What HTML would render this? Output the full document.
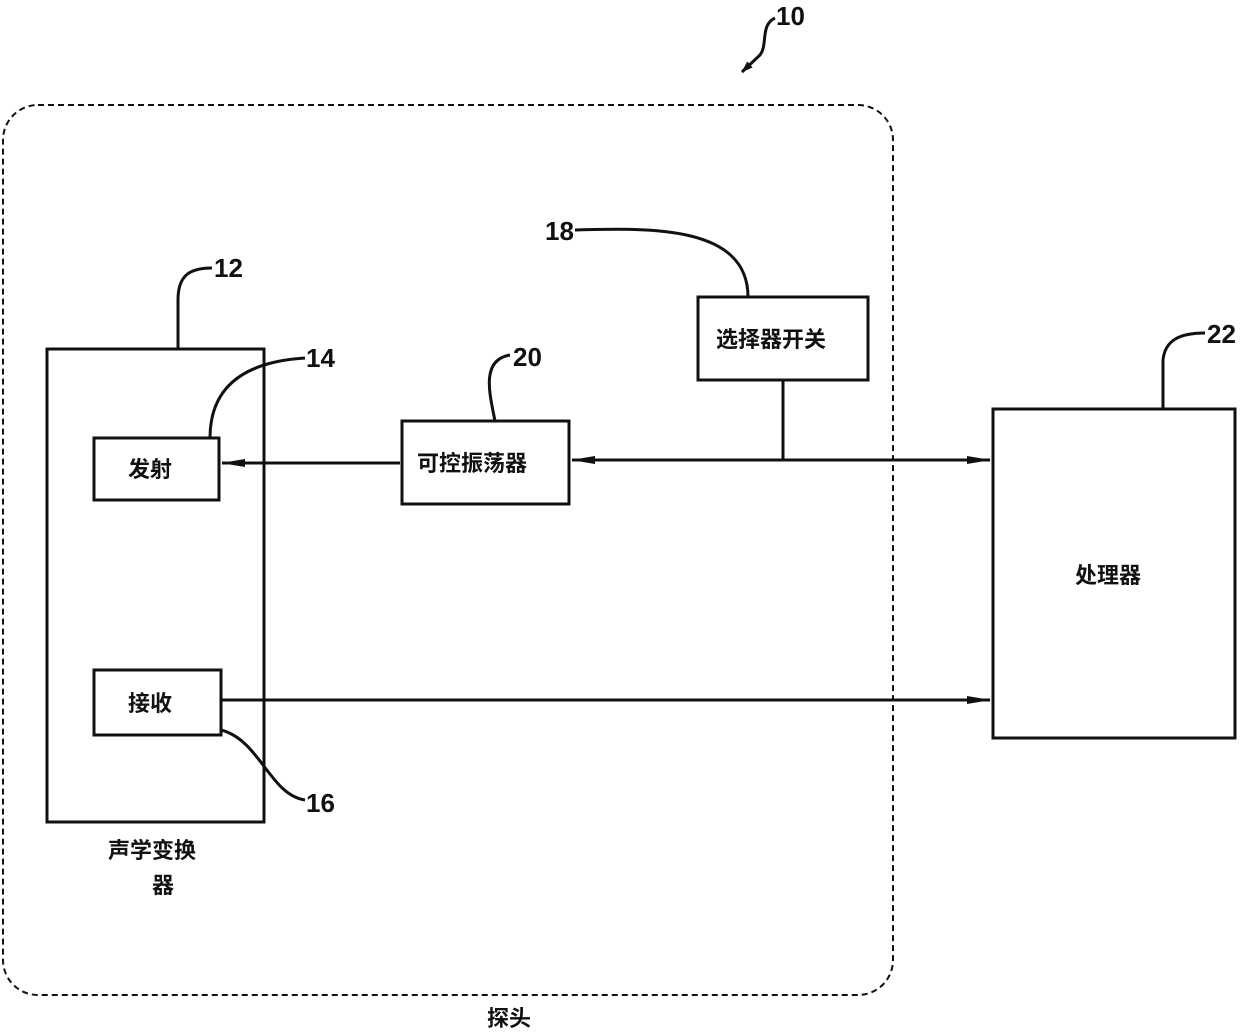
<!DOCTYPE html>
<html><head><meta charset="utf-8"><style>
html,body{margin:0;padding:0;background:#fff}
svg{display:block}
text{font-family:"Liberation Sans","Noto Sans CJK SC",sans-serif;font-weight:bold;fill:#111}
.n{font-family:"Liberation Sans",sans-serif;font-size:26px;font-weight:bold}
.c{font-size:22px}
</style></head><body>
<svg width="1240" height="1033" viewBox="0 0 1240 1033" xmlns="http://www.w3.org/2000/svg">
<defs><marker id="a" markerWidth="12" markerHeight="10" refX="11" refY="5" orient="auto" markerUnits="userSpaceOnUse"><path d="M0,1 L12,5 L0,9 Z" fill="#111"/></marker>
<marker id="b" markerWidth="24" markerHeight="12" refX="23" refY="6" orient="auto" markerUnits="userSpaceOnUse"><path d="M0,2 L24,6 L0,10 Z" fill="#111"/></marker></defs>
<g fill="none" stroke="#111" stroke-width="3">
<rect x="3" y="105" width="890" height="890" rx="35" stroke-dasharray="6,4" stroke-width="2"/>
<rect x="47" y="349" width="217" height="473"/>
<rect x="94" y="438" width="125" height="62"/>
<rect x="94" y="670" width="127" height="65"/>
<rect x="402" y="421" width="167" height="83"/>
<rect x="698" y="297" width="170" height="83"/>
<rect x="993" y="409" width="242" height="329"/>
<line x1="400" y1="463" x2="222" y2="463" marker-end="url(#b)"/>
<line x1="783" y1="460" x2="572" y2="460" marker-end="url(#b)"/>
<line x1="783" y1="460" x2="990" y2="460" marker-end="url(#b)"/>
<line x1="783" y1="380" x2="783" y2="460"/>
<line x1="221" y1="700" x2="990" y2="700" marker-end="url(#b)"/>
<path d="M178,349 L178,300 C178,275 190,268 212,268"/>
<path d="M210,438 C210,390 240,362 305,358"/>
<path d="M495,421 C490,395 480,360 510,355"/>
<path d="M575,230 C650,228 748,225 748,297"/>
<path d="M1163,409 L1163,360 C1165,340 1180,333 1205,333"/>
<path d="M221,730 C260,740 270,795 305,800"/>
<path d="M775,18 C760,25 768,45 760,55 L742,72" marker-end="url(#a)"/>
</g>
<text class="n" x="776" y="25">10</text>
<text class="n" x="214" y="277">12</text>
<text class="n" x="306" y="367">14</text>
<text class="n" x="513" y="366">20</text>
<text class="n" x="545" y="240">18</text>
<text class="n" x="1207" y="343">22</text>
<text class="n" x="306" y="812">16</text>
<text class="c" x="128" y="477">发射</text>
<text class="c" x="128" y="711">接收</text>
<text class="c" x="417" y="471">可控振荡器</text>
<text class="c" x="716" y="347">选择器开关</text>
<text class="c" x="1075" y="583">处理器</text>
<text class="c" x="108" y="858">声学变换</text>
<text class="c" x="152" y="893">器</text>
<text class="c" x="487" y="1026">探头</text>
</svg>
</body></html>
